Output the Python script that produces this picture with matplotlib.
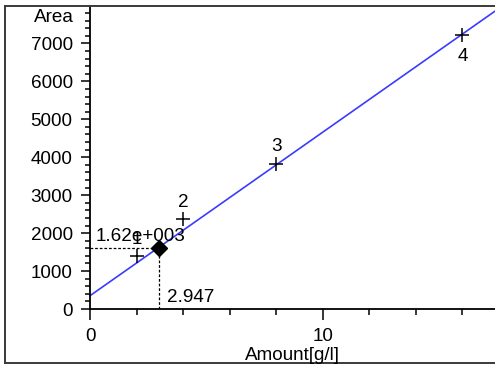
import matplotlib
matplotlib.use("Agg")
import matplotlib.pyplot as plt
from matplotlib.lines import Line2D
from matplotlib.ticker import MultipleLocator

plt.rcParams['font.family'] = ['Liberation Sans', 'DejaVu Sans']

# data
amount = [2, 4, 8, 16]
area = [1390, 2360, 3830, 7210]
labels = ["1", "2", "3", "4"]
label_above = [True, True, True, False]
fit_slope = 431.0
fit_intercept = 350.0
query_x = 2.947
query_y = 1620.0
query_y_text = "1.62e+003"
query_x_text = "2.947"

FS = 13.6
W, H = 495, 370
fig = plt.figure(figsize=(W / 100, H / 100), dpi=100)
ax = fig.add_axes([90 / W, 1 - 309 / H, 1 - 90 / W, (309 - 6) / H])

ax.set_xlim(0, 17.4)
ax.set_ylim(0, 7985)

for s in ['top', 'right']:
    ax.spines[s].set_visible(False)
for s in ['left', 'bottom']:
    ax.spines[s].set_linewidth(1.3)
    ax.spines[s].set_color('black')

ax.xaxis.set_major_locator(MultipleLocator(10))
ax.xaxis.set_minor_locator(MultipleLocator(2))
ax.yaxis.set_major_locator(MultipleLocator(1000))
ax.yaxis.set_minor_locator(MultipleLocator(200))
ax.tick_params(axis='x', which='major', length=8, width=1.1, pad=6, labelsize=FS)
ax.tick_params(axis='x', which='minor', length=4.3, width=1.1)
ax.tick_params(axis='y', which='major', length=6.5, width=1.1, pad=6, labelsize=FS)
ax.tick_params(axis='y', which='minor', length=3.6, width=1.1)

# fit line
x0, x1 = 0, ax.get_xlim()[1]
ax.plot([x0, x1], [fit_intercept + fit_slope * x0, fit_intercept + fit_slope * x1],
        color='#3b3bff', lw=1.2, zorder=2, clip_on=False)

# calibration points
ax.plot(amount, area, linestyle='none', marker='+', markersize=10,
        markeredgewidth=1.1, color='black', zorder=3)
for x, y, lab, above in zip(amount, area, labels, label_above):
    ax.annotate(lab, (x, y), xytext=(0, 12.2 if above else -15),
                textcoords='offset points', ha='center', va='center', fontsize=FS)

# query point
ax.plot([0, query_x], [query_y, query_y], color='black', lw=0.9,
        linestyle=(0, (2.2, 1.5)), zorder=2)
ax.plot([query_x, query_x], [0, query_y], color='black', lw=0.9,
        linestyle=(0, (2.2, 1.5)), zorder=2)
ax.plot([query_x], [query_y], marker='D', markersize=8, color='black', zorder=4)
ax.annotate(query_y_text, (0, query_y), xytext=(4.3, 5), textcoords='offset points',
            ha='left', va='baseline', fontsize=FS)
ax.annotate(query_x_text, (query_x, 0), xytext=(5.8, 5), textcoords='offset points',
            ha='left', va='baseline', fontsize=FS)

# axis titles
fig.text(74 / W, 1 - 18 / H, "Area", ha='right', va='center', fontsize=FS)
fig.text((90 + W) / 2 / W, 1 - 355 / H, "Amount[g/l]", ha='center', va='center', fontsize=FS)

# outer frame
fc = '#3a3a3a'
fig.add_artist(Line2D([5 / W, 5 / W], [1 - 363 / H, 1 - 6 / H], color=fc, lw=1.4))
fig.add_artist(Line2D([5 / W, 1.0], [1 - 6 / H, 1 - 6 / H], color=fc, lw=1.4))
fig.add_artist(Line2D([5 / W, 1.0], [1 - 363 / H, 1 - 363 / H], color=fc, lw=1.4))

fig.savefig("out.png", dpi=100)
